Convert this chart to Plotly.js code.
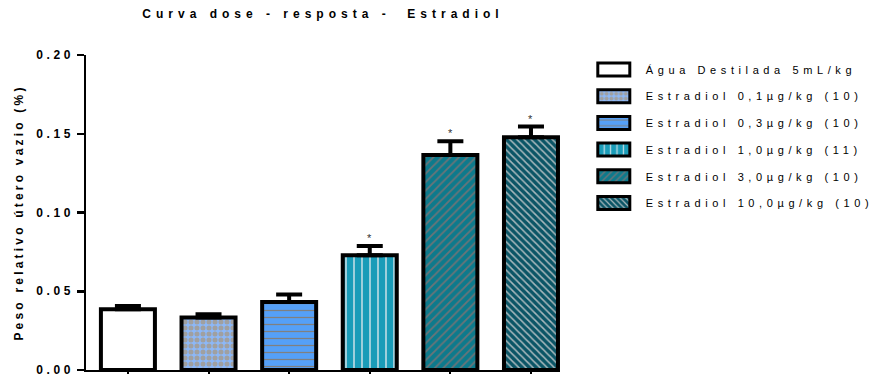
<!DOCTYPE html>
<html>
<head>
<meta charset="utf-8">
<script src="https://cdn.plot.ly/plotly-3.0.1.min.js"></script>
<style>
  html, body { margin: 0; padding: 0; background: #fff; }
  #chart { width: 881px; height: 374px; }
  .gtitle { letter-spacing: 5px; }
  .ytitle { letter-spacing: 3.2px; }
  .ytick text { letter-spacing: 3.6px; }
  .legendtext { letter-spacing: 4.6px; }
</style>
</head>
<body>
<div id="chart"></div>
<script>
// ---- data ----
const categories = [
  "Água Destilada 5mL/kg",
  "Estradiol 0,1µg/kg (10)",
  "Estradiol 0,3µg/kg (10)",
  "Estradiol 1,0µg/kg (11)",
  "Estradiol 3,0µg/kg (10)",
  "Estradiol 10,0µg/kg (10)"
];
const means = [0.0386, 0.0334, 0.0432, 0.0729, 0.1365, 0.1477];
const sems  = [0.0020, 0.0020, 0.0047, 0.0059, 0.0087, 0.0069];
const significance = ["", "", "", "*", "*", "*"];
const yTickValues = [0, 0.05, 0.10, 0.15, 0.20];

// ---- styles ----
const fillColors   = ["#ffffff", "#8cb8f8", "#55a0f8", "#1a9cb8", "#0d7a8c", "#0b5566"];
const patternShape = ["", ".", "-", "|", "/", "\\"];
const patternFg    = ["#000000", "#a0a0a0", "#808080", "#c0dce4", "#6a7478", "#a8b8bc"];
const patternSize  = [8, 6, 7, 8, 6, 5];
const patternSolid = [0.3, 0.55, 0.18, 0.2, 0.3, 0.3];

const FONT = "Liberation Sans, Arial, Helvetica, sans-serif";

const traces = categories.map((c, i) => ({
  type: "bar",
  name: c,
  x: [c],
  y: [means[i]],
  width: 0.67,
  legendgroup: "g" + i,
  marker: {
    color: fillColors[i],
    line: { color: "#000000", width: 4 },
    pattern: {
      shape: patternShape[i],
      bgcolor: fillColors[i],
      fgcolor: patternFg[i],
      fgopacity: 1,
      size: patternSize[i],
      solidity: patternSolid[i],
      fillmode: "replace"
    }
  },
  error_y: {
    type: "data",
    symmetric: false,
    array: [sems[i]],
    arrayminus: [0],
    color: "#000000",
    thickness: 4,
    width: 13
  },
  hoverinfo: "skip"
}));

const annotations = categories.map((c, i) => ({
  x: c,
  y: means[i] + sems[i],
  xref: "x",
  yref: "y",
  text: significance[i],
  showarrow: false,
  yanchor: "bottom",
  yshift: 0,
  font: { family: FONT, size: 11, color: "#333333" }
})).filter((a, i) => significance[i] !== "");

const layout = {
  width: 881,
  height: 374,
  margin: { l: 86, r: 321, t: 55, b: 4, pad: 0, autoexpand: false },
  paper_bgcolor: "#ffffff",
  plot_bgcolor: "#ffffff",
  barmode: "overlay",
  showlegend: true,
  title: {
    text: "Curva dose - resposta -  Estradiol",
    x: 0.5,
    xref: "paper",
    xanchor: "center",
    y: 0.962,
    yref: "container",
    yanchor: "middle",
    font: { family: FONT, size: 12, color: "#000000", weight: "bold" }
  },
  xaxis: {
    type: "category",
    categoryorder: "array",
    categoryarray: categories,
    range: [-0.52, 5.36],
    showticklabels: false,
    showline: true,
    linecolor: "#000000",
    linewidth: 2,
    ticks: "outside",
    ticklen: 5,
    tickwidth: 2,
    tickcolor: "#000000",
    showgrid: false,
    zeroline: false,
    fixedrange: true
  },
  yaxis: {
    range: [0, 0.2],
    tickmode: "array",
    tickvals: yTickValues,
    tickformat: ".2f",
    ticklabeloverflow: "allow",
    showline: true,
    linecolor: "#000000",
    linewidth: 2.5,
    ticks: "outside",
    ticklen: 7,
    tickwidth: 2.5,
    tickcolor: "#000000",
    showgrid: false,
    zeroline: false,
    tickfont: { family: FONT, size: 12, color: "#000000", weight: "bold" },
    title: {
      text: "Peso relativo útero vazio (%)",
      font: { family: FONT, size: 12, color: "#000000", weight: "bold" },
      standoff: 10
    },
    fixedrange: true
  },
  legend: {
    x: 1.046,
    xanchor: "left",
    y: 1.0,
    yanchor: "top",
    xref: "paper",
    yref: "paper",
    itemwidth: 54,
    traceorder: "grouped",
    tracegroupgap: 7.7,
    bgcolor: "rgba(0,0,0,0)",
    borderwidth: 0,
    font: { family: FONT, size: 11, color: "#000000" },
    itemclick: false,
    itemdoubleclick: false
  },
  annotations: annotations
};

Plotly.newPlot("chart", traces, layout, { displayModeBar: false, staticPlot: true })
  .then(gd => {
    // widen legend swatches to the wide rectangles of the reference
    gd.querySelectorAll(".legendpoints path").forEach(p => {
      p.setAttribute("d", "M16,6.5H-16V-6.5H16Z");
      p.style.strokeWidth = "3px";
    });
  });
</script>
</body>
</html>
